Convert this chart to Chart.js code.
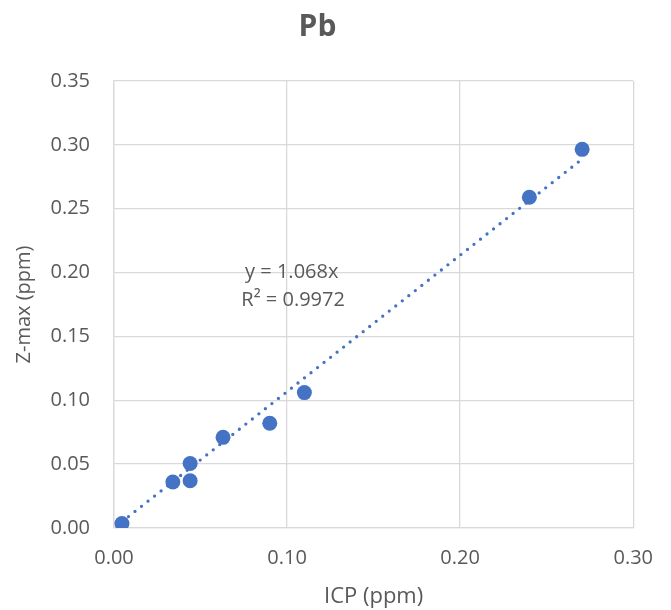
<!DOCTYPE html>
<html>
<head>
<meta charset="utf-8">
<script src="https://cdn.jsdelivr.net/npm/chart.js@4.4.1/dist/chart.umd.min.js"></script>
<style>
  html, body { margin: 0; padding: 0; background: #ffffff; }
  #wrap { width: 671px; height: 610px; }
</style>
</head>
<body>
<div id="wrap"><canvas id="graphique"></canvas></div>
<script>
// Données
const icpPpm = [0.0046, 0.034, 0.044, 0.044, 0.063, 0.090, 0.110, 0.240, 0.2705];
const zmaxPpm = [0.0035, 0.036, 0.037, 0.0505, 0.071, 0.082, 0.106, 0.259, 0.2965];
const pente = 1.068;
const equation = ["y = 1.068x", "R² = 0.9972"];
const xTicks = ["0.00", "0.10", "0.20", "0.30"];
const yTicks = ["0.00", "0.05", "0.10", "0.15", "0.20", "0.25", "0.30", "0.35"];

const gris = "#595959";
const bleu = "#4472C4";

// points du nuage
const points = icpPpm.map((x, i) => ({ x: x, y: zmaxPpm[i] }));
// courbe de tendance (passe par l'origine) entre le min et le max de x
const xMin = Math.min(...icpPpm);
const xMax = Math.max(...icpPpm);
const tendance = [
  { x: xMin, y: pente * xMin },
  { x: xMax, y: pente * xMax },
];

// Affiche l'équation de la courbe de tendance
const pluginEquation = {
  id: "equation",
  afterDatasetsDraw(chart) {
    const ctx = chart.ctx;
    const sx = chart.scales.x;
    const sy = chart.scales.y;
    ctx.save();
    ctx.fillStyle = gris;
    ctx.font = "20px 'Open Sans'";
    ctx.textAlign = "center";
    ctx.textBaseline = "middle";
    ctx.fillText(equation[0], sx.getPixelForValue(0.1027), sy.getPixelForValue(0.2005));
    ctx.fillText(equation[1], sx.getPixelForValue(0.1035), sy.getPixelForValue(0.1785));
    ctx.restore();
  },
};

const config = {
  type: "scatter",
  data: {
    datasets: [
      {
        label: "Tendance",
        type: "line",
        data: tendance,
        borderColor: bleu,
        borderWidth: 3.3,
        borderDash: [0, 8.3],
        borderCapStyle: "round",
        pointRadius: 0,
        fill: false,
      },
      {
        label: "Pb",
        data: points,
        backgroundColor: bleu,
        borderColor: bleu,
        pointRadius: 7.5,
        pointBorderWidth: 0,
      },
    ],
  },
  options: {
    responsive: false,
    animation: false,
    layout: { padding: { left: 0, right: 36, top: 0, bottom: 0 } },
    plugins: {
      legend: { display: false },
      tooltip: { enabled: false },
      title: {
        display: true,
        text: "Pb",
        color: gris,
        font: { family: "'Open Sans'", size: 30, weight: "bold", lineHeight: 1.2 },
        padding: { top: 9, bottom: 36 },
      },
    },
    scales: {
      x: {
        type: "linear",
        min: 0,
        max: 0.3,
        afterFit(scale) { scale.height = 82; },
        afterBuildTicks(scale) {
          scale.ticks = xTicks.map((t) => ({ value: parseFloat(t) }));
        },
        ticks: {
          color: gris,
          padding: 18,
          font: { family: "'Open Sans'", size: 20 },
          callback: (v, i) => xTicks[i],
        },
        grid: { color: "#d9d9d9", lineWidth: 1.3, drawTicks: false },
        border: { color: "#d9d9d9", width: 1.3 },
        title: {
          display: true,
          text: "ICP (ppm)",
          color: gris,
          font: { family: "'Open Sans'", size: 22, lineHeight: 1.2 },
          padding: { top: 0, bottom: 0 },
        },
      },
      y: {
        type: "linear",
        min: 0,
        max: 0.35,
        afterFit(scale) { scale.width = 114; },
        afterBuildTicks(scale) {
          scale.ticks = yTicks.map((t) => ({ value: parseFloat(t) }));
        },
        ticks: {
          color: gris,
          padding: 24,
          font: { family: "'Open Sans'", size: 20 },
          callback: (v, i) => yTicks[i],
        },
        grid: { color: "#d9d9d9", lineWidth: 1.3, drawTicks: false },
        border: { color: "#d9d9d9", width: 1.3 },
        title: {
          display: true,
          text: "Z-max (ppm)",
          color: gris,
          font: { family: "'Open Sans'", size: 20, lineHeight: 1.2 },
          padding: { top: 12, bottom: 0 },
        },
      },
    },
  },
  plugins: [pluginEquation],
};

const canvas = document.querySelector("#graphique");
canvas.width = 671;
canvas.height = 610;
new Chart(canvas, config);
</script>
</body>
</html>
